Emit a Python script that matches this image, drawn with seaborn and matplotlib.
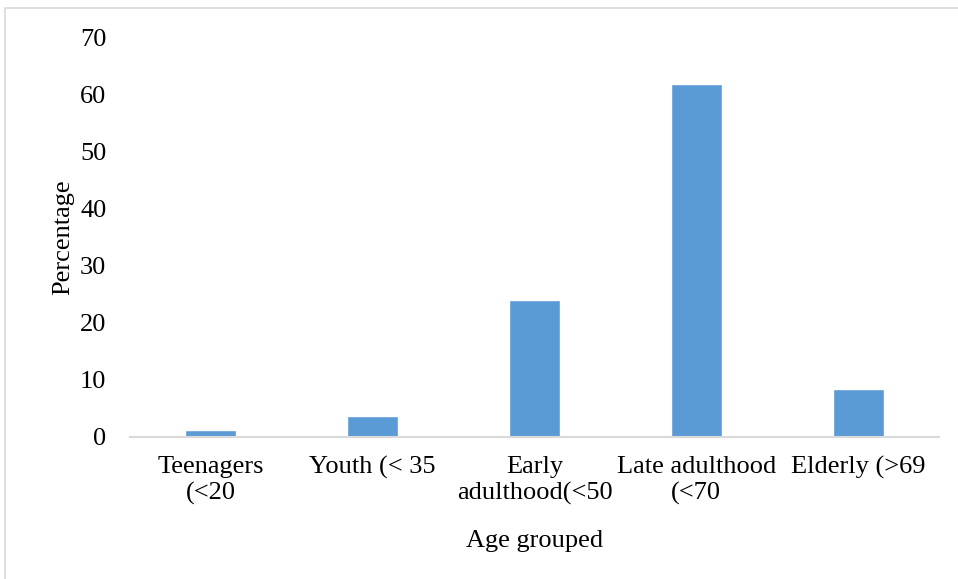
import matplotlib
matplotlib.use("Agg")
import matplotlib.pyplot as plt
from matplotlib.patches import Rectangle
import seaborn as sns
import pandas as pd

categories = ["Teenagers\n(<20", "Youth (< 35", "Early\nadulthood(<50",
              "Late adulthood\n(<70", "Elderly (>69"]
percentages = [1.2, 3.6, 24.0, 61.8, 8.3]
y_ticks = [0, 10, 20, 30, 40, 50, 60, 70]

sns.set_theme(style="white")
plt.rcParams["font.family"] = ["Liberation Serif", "DejaVu Serif"]

df = pd.DataFrame({"group": categories, "pct": percentages})

fig = plt.figure(figsize=(9.58, 5.79), dpi=100)
ax = fig.add_axes([130 / 958, 1 - 436.5 / 579, (939 - 130) / 958, (436.5 - 37) / 579])

sns.barplot(data=df, x="group", y="pct", color="#5B9BD5", width=0.315,
            saturation=1, ax=ax)

ax.set_ylim(0, 70)
ax.set_yticks(y_ticks)
ax.set_xlim(-0.5, len(categories) - 0.5)
ax.tick_params(axis="both", length=0, labelsize=19, labelcolor="black")
ax.tick_params(axis="y", pad=17)
ax.tick_params(axis="x", pad=14)
for lbl in ax.get_xticklabels():
    lbl.set_linespacing(1.25)

for side in ["left", "right", "top"]:
    ax.spines[side].set_visible(False)
ax.spines["bottom"].set_color("#D9D9D9")
ax.spines["bottom"].set_linewidth(1.5)

ax.set_xlabel("Age grouped", fontsize=19, color="black", labelpad=18)
ax.set_ylabel("Percentage", fontsize=19, color="black", labelpad=4)

# light outer frame around the chart area
fig.patches.append(Rectangle((5 / 958, -0.1), 1.2, 1 - 8 / 579 + 0.1,
                             transform=fig.transFigure, fill=False,
                             edgecolor="#D9D9D9", linewidth=1.2))

fig.savefig("out.png", dpi=100)
